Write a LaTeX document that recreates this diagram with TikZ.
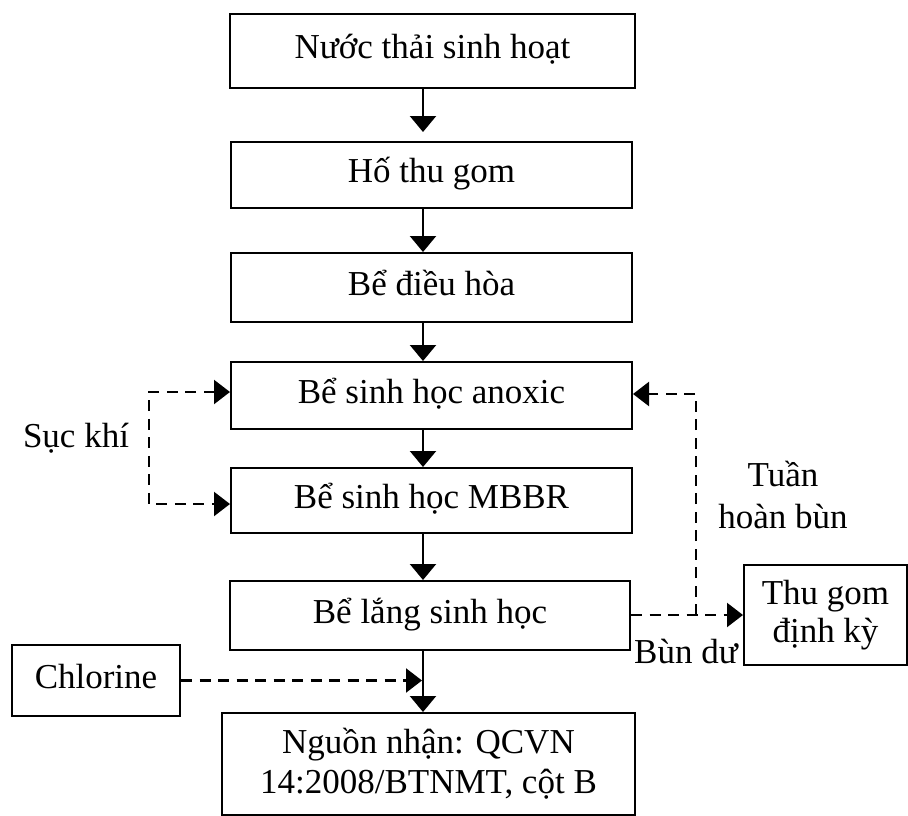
\documentclass[tikz,border=0pt]{standalone}
\usepackage{fontspec}
\setmainfont{Liberation Serif}
\usetikzlibrary{arrows.meta}
\begin{document}
\begin{tikzpicture}[x=1pt,y=-1pt,
  box/.style={draw, line width=2pt, rectangle, inner sep=0pt, font=\fontsize{35}{40}\selectfont, text height=23pt, text depth=8pt},
  mbox/.style={draw, line width=2pt, rectangle, inner sep=0pt, align=center},
  flow/.style={line width=2.2pt, -{Triangle[width=26pt,length=16pt]}},
  dflow/.style={line width=2.2pt, dash pattern=on 11pt off 7.5pt, -{Triangle[width=24pt,length=16pt]}},
  lbl/.style={font=\fontsize{35}{42}\selectfont, inner sep=0pt, align=center}]
\useasboundingbox (0,0) rectangle (908,816);
\node[box, minimum width=405pt, minimum height=74pt] (B1) at (432.5,51) {Nước thải sinh hoạt};
\node[box, minimum width=401pt, minimum height=66pt] (B2) at (431.5,175) {Hố thu gom};
\node[box, minimum width=401pt, minimum height=69pt] (B3) at (431.5,287.5) {Bể điều hòa};
\node[box, minimum width=401pt, minimum height=67pt] (B4) at (431.5,395.5) {Bể sinh học anoxic};
\node[box, minimum width=401pt, minimum height=65pt] (B5) at (431.5,500.5) {Bể sinh học MBBR};
\node[box, minimum width=400pt, minimum height=69pt] (B6) at (430,615.5) {Bể lắng sinh học};
\node[mbox, font=\fontsize{35}{40}\selectfont, minimum width=413pt, minimum height=102pt] (B7) at (428.5,764) {Nguồn nhận: QCVN\\14:2008/BTNMT, cột B};
\node[box, minimum width=168pt, minimum height=71pt] (CL) at (96,680.5) {Chlorine};
\node[mbox, font=\fontsize{35}{38}\selectfont, minimum width=163pt, minimum height=100pt] (TG) at (825.5,615) {Thu gom\\định kỳ};
\coordinate (ax) at (423,0);
\draw[flow, shorten >=9pt] (B1.south -| ax) -- (B2.north -| ax);
\draw[flow] (B2.south -| ax) -- (B3.north -| ax);
\draw[flow] (B3.south -| ax) -- (B4.north -| ax);
\draw[flow] (B4.south -| ax) -- (B5.north -| ax);
\draw[flow] (B5.south -| ax) -- (B6.north -| ax);
\draw[flow] (B6.south -| ax) -- (B7.north -| ax);
\coordinate (s1) at (149,392);
\coordinate (s2) at (149,504);
\draw[dflow, {Triangle[width=24pt,length=16pt]}-{Triangle[width=24pt,length=16pt]}] (B4.west |- s1) -- (s1) -- (s2) -- (B5.west |- s2);
\coordinate (r1) at (696,615);
\coordinate (r2) at (696,394);
\draw[dflow] (B6.east |- r1) -- (TG.west |- r1);
\draw[dflow] (r1) -- (r2) -- (B4.east |- r2);
\draw[dflow, shorten >=1pt] (CL.east) -- (CL.east -| ax);
\node[lbl, anchor=base] (sk) at (76,447) {Sục khí};
\node[lbl] (th) at (783,495) {Tuần\\hoàn bùn};
\node[lbl, anchor=base] (bd) at (686,663) {Bùn dư};
\end{tikzpicture}
\end{document}
